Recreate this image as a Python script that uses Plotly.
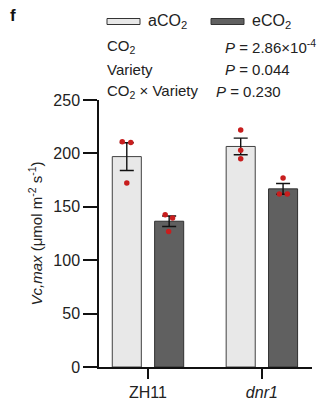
import plotly.graph_objects as go

categories = ["ZH11", "dnr1"]
tick_labels = ["ZH11", "<i>dnr1</i>"]
series_names = ["aCO<sub>2</sub>", "eCO<sub>2</sub>"]
a_means = [197, 206.5]
e_means = [136.5, 166.8]
a_err = [13, 7.8]
e_err = [4.9, 5]
a_points = [[210.8, 210.2, 172.3], [221.8, 203.0, 194.9]]
e_points = [[142.6, 139.5, 126.9], [177.0, 162.0, 162.0]]
a_jitter = [[-0.04, 0.035, 0.0], [0.0, 0.0, 0.0]]
e_jitter = [[-0.035, 0.03, -0.005], [0.0, -0.033, 0.037]]
stats_labels = ["CO<sub>2</sub>", "Variety", "CO<sub>2</sub> × Variety"]
stats_p = ["<i>P</i> = 2.86×10<sup>-4</sup>", "<i>P</i> = 0.044", "<i>P</i> = 0.230"]

FONT = "Liberation Sans, Arial, sans-serif"
A_COL = "#e8e8e8"
E_COL = "#606060"
DOT = "#c81e1e"
OFF = 0.186
BW = 0.255

xi = list(range(len(categories)))
fig = go.Figure()
fig.add_trace(go.Bar(x=[i - OFF for i in xi], y=a_means, width=BW, marker=dict(color=A_COL, line=dict(color="#404040", width=1)),
                     error_y=dict(type="data", array=a_err, color="#111", thickness=1.4, width=7), showlegend=False))
fig.add_trace(go.Bar(x=[i + OFF for i in xi], y=e_means, width=BW, marker=dict(color=E_COL, line=dict(color="#303030", width=1)),
                     error_y=dict(type="data", array=e_err, color="#111", thickness=1.4, width=7), showlegend=False))
for pts, jit, sgn in [(a_points, a_jitter, -1), (e_points, e_jitter, 1)]:
    xs, ys = [], []
    for i, (pp, jj) in enumerate(zip(pts, jit)):
        for p, j in zip(pp, jj):
            xs.append(i + sgn * OFF + j)
            ys.append(p)
    fig.add_trace(go.Scatter(x=xs, y=ys, mode="markers", marker=dict(color=DOT, size=5.5), showlegend=False))

fig.update_layout(
    width=321, height=410, margin=dict(l=99, r=9, t=100, b=43),
    plot_bgcolor="white", paper_bgcolor="white", barmode="overlay",
    font=dict(family=FONT, size=15, color="#222"),
    xaxis=dict(range=[-0.43, 1.44], tickvals=xi, ticktext=tick_labels, showline=True, linecolor="#111", linewidth=1.5,
               ticks="outside", ticklen=10, tickwidth=1.5, tickcolor="#111", showgrid=False, zeroline=False,
               tickfont=dict(size=16)),
    yaxis=dict(range=[0, 250], tickvals=[0, 50, 100, 150, 200, 250], showline=True, linecolor="#111", linewidth=1.5,
               ticks="outside", ticklen=14, tickwidth=1.5, tickcolor="#111", showgrid=False, zeroline=False,
               tickfont=dict(size=16),
               title=dict(text="<i>Vc,max</i> (μmol m<sup>-2</sup> s<sup>-1</sup>)", font=dict(size=15), standoff=7)),
)

def px(x):
    return (x - 99) / 213
def py(y):
    return (367 - y) / 267

# legend
for x0, x1, col, lab in [(107, 140, A_COL, series_names[0]), (211, 244, E_COL, series_names[1])]:
    fig.add_shape(type="rect", xref="paper", yref="paper", x0=px(x0), x1=px(x1), y0=py(24.5), y1=py(18.5),
                  fillcolor=col, line=dict(color="#333", width=1))
    fig.add_annotation(xref="paper", yref="paper", x=px(x1 + 6), y=py(22), text=lab, showarrow=False,
                       xanchor="left", yanchor="middle", font=dict(size=16))

rows_y = [47, 70, 92]
p_x = [223, 223, 214]
for lab, p, yy, xx in zip(stats_labels, stats_p, rows_y, p_x):
    fig.add_annotation(xref="paper", yref="paper", x=px(105), y=py(yy), text=lab, showarrow=False,
                       xanchor="left", yanchor="middle", font=dict(size=15))
    fig.add_annotation(xref="paper", yref="paper", x=px(xx), y=py(yy), text=p, showarrow=False,
                       xanchor="left", yanchor="middle", font=dict(size=15))

fig.add_annotation(xref="paper", yref="paper", x=px(8), y=py(15), text="<b>f</b>", showarrow=False,
                   xanchor="left", yanchor="middle", font=dict(size=17, color="#111"))

fig.write_html("out.html")
